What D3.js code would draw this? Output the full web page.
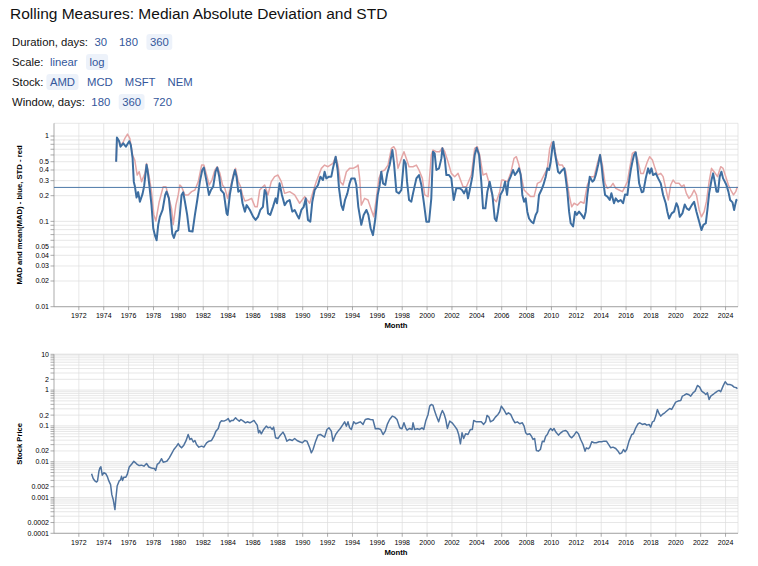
<!DOCTYPE html>
<html><head><meta charset="utf-8">
<script src="https://cdn.jsdelivr.net/npm/d3@7"></script>
<style>
body{margin:0;background:#fff;}
svg{display:block;font-family:"Liberation Sans",Arial,Helvetica,sans-serif;}
</style></head><body>
<svg id="chart" width="758" height="566"></svg>
<script>
// ---------- text ----------
const title = "Rolling Measures: Median Absolute Deviation and STD";
const controlLabels = ["Duration, days:", "Scale:", "Stock:", "Window, days:"];
const controlOptions = [["30", "180", "360"], ["linear", "log"], ["AMD", "MCD", "MSFT", "NEM"], ["180", "360", "720"]];
const controlSelected = ["360", "log", "AMD", "360"];
const xTitle = "Month";
const topYTitle = "MAD and mean(MAD) - blue, STD - red";
const bottomYTitle = "Stock Price";

// ---------- data (decimal year, value) ----------
const madSeries = [
[1975.00,0.50],[1975.06,0.96],[1975.24,0.87],[1975.35,0.75],[1975.57,0.82],[1975.78,0.75],[1976.05,0.87],[1976.18,0.78],
[1976.32,0.55],[1976.42,0.29],[1976.50,0.26],[1976.64,0.19],[1976.77,0.22],[1976.91,0.17],[1977.12,0.21],[1977.25,0.26],
[1977.44,0.46],[1977.52,0.40],[1977.66,0.27],[1977.84,0.155],[1977.98,0.083],[1978.11,0.069],[1978.25,0.060],[1978.38,0.091],
[1978.51,0.113],[1978.73,0.136],[1978.94,0.204],[1979.05,0.223],[1979.24,0.186],[1979.37,0.119],[1979.51,0.072],[1979.64,0.064],
[1979.80,0.076],[1979.99,0.079],[1980.12,0.119],[1980.26,0.204],[1980.39,0.219],[1980.53,0.170],[1980.71,0.119],[1980.87,0.077],
[1981.14,0.076],[1981.33,0.119],[1981.52,0.178],[1981.73,0.292],[1981.92,0.400],[1982.05,0.426],[1982.27,0.292],[1982.46,0.204],
[1982.62,0.233],[1982.80,0.255],[1982.99,0.382],[1983.13,0.426],[1983.29,0.334],[1983.42,0.233],[1983.66,0.213],[1983.88,0.124],
[1983.96,0.119],[1984.14,0.204],[1984.33,0.292],[1984.55,0.400],[1984.68,0.334],[1984.82,0.223],[1985.00,0.233],[1985.16,0.163],
[1985.35,0.130],[1985.49,0.155],[1985.75,0.136],[1986.02,0.113],[1986.21,0.104],[1986.40,0.113],[1986.59,0.136],[1986.80,0.148],
[1986.94,0.233],[1987.07,0.213],[1987.21,0.124],[1987.39,0.119],[1987.61,0.148],[1987.82,0.186],[1987.93,0.163],[1988.14,0.279],
[1988.33,0.204],[1988.55,0.155],[1988.73,0.170],[1988.95,0.178],[1989.16,0.130],[1989.35,0.136],[1989.54,0.119],[1989.70,0.108],
[1989.89,0.136],[1990.08,0.148],[1990.24,0.186],[1990.42,0.104],[1990.61,0.099],[1990.77,0.170],[1990.96,0.233],[1991.23,0.267],
[1991.42,0.334],[1991.63,0.305],[1991.76,0.382],[1991.90,0.319],[1992.11,0.334],[1992.30,0.334],[1992.43,0.418],[1992.65,0.573],
[1992.81,0.400],[1992.92,0.244],[1993.10,0.155],[1993.24,0.136],[1993.40,0.178],[1993.59,0.213],[1993.77,0.279],[1993.91,0.319],
[1994.18,0.319],[1994.31,0.267],[1994.47,0.148],[1994.71,0.091],[1994.90,0.119],[1995.12,0.136],[1995.28,0.119],[1995.46,0.083],
[1995.65,0.069],[1995.84,0.108],[1996.03,0.204],[1996.19,0.267],[1996.32,0.382],[1996.46,0.279],[1996.64,0.267],[1996.80,0.365],
[1996.99,0.457],[1997.21,0.685],[1997.34,0.478],[1997.53,0.223],[1997.74,0.213],[1997.93,0.233],[1998.14,0.523],[1998.28,0.478],
[1998.39,0.292],[1998.55,0.178],[1998.73,0.170],[1998.87,0.213],[1999.14,0.319],[1999.35,0.349],[1999.54,0.267],[1999.73,0.170],
[1999.94,0.099],[2000.16,0.099],[2000.34,0.186],[2000.48,0.655],[2000.61,0.626],[2000.75,0.400],[2000.96,0.418],[2001.15,0.547],
[2001.23,0.717],[2001.42,0.547],[2001.55,0.349],[2001.76,0.349],[2001.95,0.319],[2002.14,0.178],[2002.35,0.244],[2002.62,0.244],
[2002.81,0.233],[2002.97,0.213],[2003.16,0.244],[2003.29,0.186],[2003.43,0.233],[2003.64,0.334],[2003.83,0.599],[2003.99,0.730],
[2004.18,0.599],[2004.36,0.292],[2004.50,0.142],[2004.69,0.142],[2004.85,0.223],[2005.03,0.292],[2005.25,0.204],[2005.44,0.108],
[2005.57,0.101],[2005.70,0.130],[2005.89,0.204],[2006.11,0.233],[2006.27,0.292],[2006.43,0.204],[2006.54,0.292],[2006.72,0.334],
[2006.91,0.400],[2007.07,0.349],[2007.26,0.382],[2007.39,0.418],[2007.53,0.349],[2007.66,0.204],[2007.80,0.170],[2007.93,0.186],
[2008.06,0.130],[2008.20,0.108],[2008.39,0.099],[2008.55,0.095],[2008.73,0.119],[2008.87,0.130],[2009.00,0.204],[2009.19,0.233],
[2009.35,0.267],[2009.54,0.334],[2009.67,0.418],[2009.81,0.400],[2009.94,0.500],[2010.08,0.750],[2010.16,0.858],[2010.26,0.655],
[2010.40,0.500],[2010.53,0.382],[2010.66,0.365],[2010.88,0.400],[2011.04,0.418],[2011.15,0.319],[2011.28,0.223],[2011.42,0.130],
[2011.55,0.095],[2011.74,0.087],[2011.90,0.130],[2012.03,0.119],[2012.22,0.130],[2012.43,0.119],[2012.62,0.108],[2012.76,0.130],
[2012.89,0.204],[2013.08,0.334],[2013.29,0.292],[2013.43,0.305],[2013.56,0.349],[2013.75,0.457],[2013.91,0.599],[2014.04,0.437],
[2014.15,0.305],[2014.31,0.204],[2014.50,0.195],[2014.69,0.178],[2014.82,0.213],[2015.03,0.163],[2015.17,0.186],[2015.36,0.170],
[2015.57,0.178],[2015.76,0.163],[2015.92,0.207],[2016.11,0.204],[2016.24,0.292],[2016.38,0.400],[2016.51,0.500],[2016.64,0.599],
[2016.78,0.643],[2016.91,0.457],[2017.05,0.279],[2017.26,0.219],[2017.39,0.223],[2017.58,0.319],[2017.77,0.418],[2017.90,0.365],
[2018.04,0.418],[2018.17,0.349],[2018.39,0.365],[2018.58,0.319],[2018.79,0.279],[2018.98,0.204],[2019.19,0.163],[2019.32,0.130],
[2019.46,0.108],[2019.67,0.124],[2019.86,0.130],[2020.05,0.163],[2020.18,0.148],[2020.32,0.113],[2020.53,0.124],[2020.72,0.158],
[2020.88,0.142],[2021.06,0.136],[2021.28,0.155],[2021.47,0.170],[2021.66,0.130],[2021.88,0.099],[2022.06,0.079],[2022.22,0.091],
[2022.41,0.095],[2022.54,0.136],[2022.68,0.213],[2022.87,0.305],[2023.00,0.365],[2023.13,0.292],[2023.27,0.223],[2023.40,0.223],
[2023.53,0.334],[2023.67,0.382],[2023.80,0.319],[2023.94,0.292],[2024.07,0.267],[2024.23,0.223],[2024.37,0.178],[2024.56,0.167],
[2024.69,0.136],[2024.77,0.155],[2024.87,0.178],[2024.95,0.180]
];

const stdSeries = [
[1975.00,0.50],[1975.06,0.95],[1975.24,0.87],[1975.35,0.77],[1975.57,0.85],[1975.70,0.94],[1975.91,1.055],[1976.10,0.94],
[1976.32,0.60],[1976.50,0.52],[1976.69,0.349],[1976.85,0.382],[1977.04,0.292],[1977.31,0.365],[1977.44,0.478],[1977.63,0.349],
[1977.84,0.223],[1978.03,0.119],[1978.19,0.101],[1978.46,0.170],[1978.78,0.255],[1979.00,0.255],[1979.18,0.204],[1979.45,0.142],
[1979.59,0.092],[1979.80,0.155],[1979.99,0.204],[1980.12,0.267],[1980.26,0.255],[1980.53,0.204],[1980.79,0.204],[1981.06,0.223],
[1981.33,0.233],[1981.60,0.292],[1981.87,0.457],[1982.05,0.457],[1982.27,0.349],[1982.48,0.267],[1982.70,0.305],[1982.94,0.400],
[1983.13,0.437],[1983.34,0.365],[1983.55,0.267],[1983.74,0.244],[1983.96,0.186],[1984.14,0.233],[1984.41,0.349],[1984.60,0.418],
[1984.82,0.292],[1985.00,0.255],[1985.16,0.204],[1985.35,0.173],[1985.62,0.178],[1985.89,0.186],[1986.16,0.148],[1986.34,0.148],
[1986.54,0.233],[1986.94,0.267],[1987.21,0.204],[1987.47,0.292],[1987.74,0.334],[1988.01,0.349],[1988.28,0.292],[1988.55,0.213],
[1988.95,0.223],[1989.35,0.204],[1989.75,0.163],[1990.16,0.195],[1990.56,0.163],[1990.83,0.223],[1991.09,0.292],[1991.50,0.418],
[1991.76,0.457],[1992.03,0.437],[1992.43,0.478],[1992.65,0.573],[1992.84,0.457],[1993.02,0.292],[1993.24,0.267],[1993.51,0.382],
[1993.77,0.418],[1994.04,0.418],[1994.31,0.437],[1994.45,0.457],[1994.58,0.319],[1994.71,0.155],[1994.98,0.186],[1995.25,0.178],
[1995.52,0.136],[1995.71,0.113],[1995.92,0.186],[1996.13,0.319],[1996.32,0.382],[1996.59,0.400],[1996.86,0.457],[1997.13,0.717],
[1997.32,0.750],[1997.48,0.685],[1997.66,0.418],[1997.93,0.547],[1998.14,0.655],[1998.33,0.547],[1998.55,0.437],[1998.87,0.437],
[1999.14,0.457],[1999.35,0.400],[1999.62,0.319],[1999.81,0.204],[2000.08,0.195],[2000.34,0.599],[2000.48,0.685],[2000.75,0.655],
[2001.01,0.655],[2001.23,0.730],[2001.42,0.655],[2001.68,0.500],[2001.95,0.365],[2002.22,0.334],[2002.49,0.365],[2002.89,0.255],
[2003.16,0.255],[2003.56,0.349],[2003.83,0.717],[2004.04,0.750],[2004.23,0.599],[2004.50,0.349],[2004.77,0.365],[2005.03,0.267],
[2005.30,0.186],[2005.57,0.170],[2005.84,0.223],[2006.00,0.305],[2006.11,0.305],[2006.46,0.292],[2006.72,0.365],[2006.99,0.547],
[2007.18,0.573],[2007.39,0.457],[2007.66,0.292],[2007.80,0.233],[2008.06,0.213],[2008.33,0.195],[2008.60,0.195],[2008.87,0.279],
[2009.14,0.292],[2009.40,0.349],[2009.67,0.418],[2009.86,0.717],[2010.02,0.843],[2010.21,0.784],[2010.40,0.547],[2010.61,0.457],
[2010.88,0.457],[2011.15,0.382],[2011.42,0.204],[2011.63,0.148],[2011.82,0.163],[2012.09,0.155],[2012.35,0.170],[2012.62,0.163],
[2012.89,0.267],[2013.16,0.334],[2013.43,0.334],[2013.69,0.478],[2013.91,0.610],[2014.10,0.457],[2014.31,0.279],[2014.50,0.244],
[2014.77,0.255],[2014.95,0.279],[2015.17,0.244],[2015.44,0.233],[2015.71,0.223],[2015.92,0.255],[2016.11,0.292],[2016.29,0.418],
[2016.51,0.626],[2016.72,0.655],[2016.91,0.547],[2017.18,0.365],[2017.39,0.365],[2017.71,0.500],[2017.90,0.573],[2018.12,0.523],
[2018.33,0.418],[2018.52,0.349],[2018.79,0.365],[2018.98,0.334],[2019.19,0.244],[2019.40,0.178],[2019.59,0.267],[2019.78,0.305],
[2019.99,0.279],[2020.26,0.279],[2020.48,0.255],[2020.66,0.267],[2020.85,0.213],[2021.06,0.186],[2021.28,0.204],[2021.47,0.233],
[2021.66,0.204],[2021.88,0.136],[2022.06,0.113],[2022.28,0.130],[2022.46,0.170],[2022.68,0.292],[2022.87,0.418],[2023.08,0.382],
[2023.35,0.334],[2023.61,0.437],[2023.80,0.418],[2024.02,0.334],[2024.23,0.267],[2024.42,0.233],[2024.64,0.204],[2024.82,0.223],
[2024.95,0.255]
];

const meanMad = 0.25;

const priceSeries = [
[1973.02,0.0046],[1973.15,0.0034],[1973.29,0.0029],[1973.42,0.0027],[1973.50,0.0029],[1973.61,0.0054],[1973.69,0.0067],[1973.77,0.0072],
[1973.88,0.0042],[1974.01,0.0049],[1974.17,0.0046],[1974.28,0.0039],[1974.41,0.0029],[1974.55,0.0023],[1974.65,0.0012],[1974.76,0.00088],
[1974.90,0.00046],[1974.98,0.00097],[1975.08,0.0021],[1975.24,0.0029],[1975.35,0.0031],[1975.43,0.0039],[1975.51,0.0030],[1975.62,0.0037],
[1975.78,0.0037],[1975.89,0.0044],[1976.05,0.0071],[1976.24,0.0085],[1976.42,0.0103],[1976.56,0.0093],[1976.69,0.0084],[1976.85,0.0078],
[1977.04,0.0080],[1977.23,0.0075],[1977.44,0.0089],[1977.63,0.0071],[1977.84,0.0067],[1978.06,0.0065],[1978.17,0.0057],[1978.30,0.0084],
[1978.46,0.0093],[1978.65,0.0121],[1978.78,0.0097],[1978.92,0.0099],[1979.10,0.0105],[1979.27,0.0128],[1979.45,0.0166],[1979.64,0.0219],
[1979.86,0.0272],[1979.99,0.0320],[1980.12,0.0272],[1980.26,0.0244],[1980.44,0.0290],[1980.61,0.0380],[1980.79,0.0576],[1980.93,0.0418],
[1981.06,0.0445],[1981.20,0.0355],[1981.33,0.0392],[1981.46,0.0303],[1981.65,0.0255],[1981.87,0.0272],[1982.05,0.0255],[1982.27,0.0337],
[1982.46,0.0375],[1982.67,0.0392],[1982.86,0.0517],[1983.02,0.0714],[1983.21,0.0848],[1983.34,0.122],[1983.47,0.140],[1983.66,0.136],
[1983.88,0.148],[1984.01,0.161],[1984.14,0.130],[1984.28,0.142],[1984.41,0.142],[1984.60,0.168],[1984.73,0.151],[1984.90,0.136],
[1985.03,0.151],[1985.22,0.136],[1985.40,0.122],[1985.54,0.130],[1985.75,0.122],[1985.89,0.130],[1986.08,0.142],[1986.21,0.122],
[1986.34,0.105],[1986.45,0.0641],[1986.54,0.0746],[1986.67,0.0601],[1986.86,0.0795],[1987.07,0.0985],[1987.21,0.0885],[1987.39,0.0924],
[1987.55,0.0795],[1987.66,0.0924],[1987.82,0.0465],[1988.01,0.0445],[1988.20,0.0552],[1988.41,0.067],[1988.55,0.0552],[1988.73,0.0375],
[1988.95,0.0418],[1989.16,0.0392],[1989.35,0.0445],[1989.54,0.0392],[1989.75,0.036],[1989.97,0.0337],[1990.16,0.0392],[1990.34,0.0375],
[1990.56,0.0244],[1990.69,0.0177],[1990.83,0.0219],[1991.04,0.0375],[1991.23,0.0552],[1991.42,0.0576],[1991.63,0.0517],[1991.76,0.0485],
[1991.95,0.0795],[1992.11,0.0885],[1992.30,0.0714],[1992.43,0.0375],[1992.65,0.0576],[1992.84,0.0714],[1993.02,0.0848],[1993.24,0.110],
[1993.37,0.130],[1993.51,0.0985],[1993.64,0.130],[1993.77,0.0885],[1993.91,0.0795],[1994.10,0.130],[1994.26,0.115],[1994.45,0.122],
[1994.63,0.130],[1994.85,0.110],[1995.03,0.151],[1995.25,0.158],[1995.44,0.151],[1995.65,0.148],[1995.84,0.083],[1996.05,0.0848],
[1996.27,0.0795],[1996.46,0.0576],[1996.64,0.0714],[1996.80,0.110],[1996.99,0.151],[1997.21,0.188],[1997.39,0.176],[1997.58,0.151],
[1997.80,0.0885],[1997.98,0.083],[1998.14,0.122],[1998.28,0.0885],[1998.39,0.0762],[1998.60,0.0848],[1998.79,0.0795],[1998.87,0.122],
[1999.00,0.0795],[1999.22,0.083],[1999.40,0.0795],[1999.59,0.0885],[1999.73,0.0795],[1999.89,0.136],[2000.08,0.209],[2000.21,0.357],
[2000.34,0.397],[2000.48,0.372],[2000.61,0.259],[2000.75,0.188],[2000.93,0.130],[2001.10,0.209],[2001.23,0.270],[2001.36,0.218],
[2001.50,0.151],[2001.63,0.0848],[2001.82,0.136],[2002.01,0.122],[2002.22,0.0985],[2002.41,0.0795],[2002.54,0.0576],[2002.68,0.0316],
[2002.81,0.0641],[2002.94,0.0445],[2003.10,0.0601],[2003.29,0.0576],[2003.48,0.0795],[2003.64,0.0795],[2003.75,0.142],[2003.96,0.130],
[2004.18,0.130],[2004.36,0.130],[2004.55,0.110],[2004.71,0.130],[2004.82,0.196],[2004.98,0.176],[2005.09,0.130],[2005.30,0.142],
[2005.49,0.176],[2005.70,0.209],[2005.84,0.248],[2005.97,0.357],[2006.16,0.288],[2006.38,0.209],[2006.54,0.232],[2006.72,0.209],
[2006.91,0.151],[2007.07,0.122],[2007.26,0.130],[2007.45,0.115],[2007.66,0.122],[2007.80,0.0985],[2007.93,0.0641],[2008.06,0.0576],
[2008.25,0.0601],[2008.39,0.0517],[2008.52,0.0418],[2008.65,0.0445],[2008.79,0.0206],[2008.95,0.0197],[2009.11,0.0219],[2009.27,0.0375],
[2009.40,0.036],[2009.54,0.0517],[2009.67,0.0576],[2009.81,0.0746],[2009.94,0.0848],[2010.08,0.0746],[2010.21,0.0848],[2010.34,0.0684],
[2010.56,0.0552],[2010.75,0.0641],[2010.93,0.0714],[2011.15,0.0746],[2011.28,0.0684],[2011.47,0.0517],[2011.63,0.0465],[2011.82,0.0552],
[2012.01,0.0684],[2012.17,0.0601],[2012.35,0.0418],[2012.54,0.0303],[2012.70,0.0197],[2012.81,0.0244],[2012.97,0.0229],[2013.08,0.0255],
[2013.24,0.036],[2013.43,0.0337],[2013.61,0.0337],[2013.83,0.036],[2014.04,0.036],[2014.23,0.0375],[2014.42,0.0375],[2014.63,0.029],
[2014.77,0.0244],[2014.95,0.0255],[2015.17,0.0234],[2015.36,0.0197],[2015.49,0.0166],[2015.65,0.0177],[2015.79,0.0219],[2015.92,0.0189],
[2016.05,0.0219],[2016.24,0.0375],[2016.46,0.0576],[2016.59,0.0601],[2016.78,0.0885],[2016.97,0.115],[2017.10,0.122],[2017.31,0.110],
[2017.50,0.115],[2017.66,0.105],[2017.85,0.110],[2017.98,0.0924],[2018.12,0.130],[2018.25,0.136],[2018.39,0.188],[2018.52,0.288],
[2018.66,0.218],[2018.79,0.188],[2018.92,0.209],[2019.11,0.232],[2019.32,0.270],[2019.51,0.307],[2019.67,0.288],[2019.86,0.381],
[2019.99,0.462],[2020.18,0.493],[2020.40,0.514],[2020.53,0.680],[2020.66,0.710],[2020.85,0.790],[2021.01,0.756],[2021.20,0.680],
[2021.39,0.842],[2021.55,0.938],[2021.74,1.35],[2021.92,1.21],[2022.08,0.938],[2022.27,0.842],[2022.41,0.756],[2022.54,0.842],
[2022.68,0.548],[2022.81,0.680],[2023.00,0.756],[2023.16,0.842],[2023.35,0.938],[2023.48,0.979],[2023.61,0.898],[2023.80,1.29],
[2023.97,1.71],[2024.15,1.44],[2024.34,1.44],[2024.50,1.38],[2024.69,1.21],[2024.88,1.16],[2024.95,1.09]
];

// ---------- helpers ----------
const toDate = y => new Date(Date.UTC(Math.floor(y), 0, 1) + (y - Math.floor(y)) * 365.25 * 864e5);

const svg = d3.select("#chart");

// title
svg.append("text").attr("x", 10).attr("y", 18.6).attr("font-size", 15.5).attr("fill", "#111").text(title);

// controls
controlLabels.forEach((lab, i) => {
  const y = 46 + i * 20;
  const g = svg.append("g").attr("font-size", 11.3);
  const t = g.append("text").attr("x", 12).attr("y", y).attr("fill", "#111").text(lab);
  let x = 12 + t.node().getComputedTextLength() + 6.5;
  controlOptions[i].forEach(opt => {
    const sel = opt === controlSelected[i];
    const rect = sel ? g.append("rect") : null;
    const ot = g.append("text").attr("x", x).attr("y", y).attr("fill", "#34579b").text(opt);
    const w = ot.node().getComputedTextLength();
    if (sel) rect.attr("x", x - 3.5).attr("y", y - 12).attr("width", w + 7).attr("height", 16).attr("rx", 3).attr("fill", "#edf2fa");
    x += w + 12;
  });
});

const x = d3.scaleUtc().domain([new Date(Date.UTC(1970, 0, 1)), new Date(Date.UTC(2025, 0, 1))]).range([54, 738]);
const xTicks = d3.utcYear.every(2).range(new Date(Date.UTC(1971, 0, 1)), new Date(Date.UTC(2025, 0, 1)));

function drawPanel(opts) {
  const { top, bottom, yDomain, yTitle, lines, rule } = opts;
  const y = d3.scaleLog().domain(yDomain).range([bottom, top]);
  const g = svg.append("g");
  const yTicks = y.ticks();
  const fmt = y.tickFormat(10, "~g");
  const L = 54, R = 738;

  // grid
  g.append("g").selectAll("line").data(yTicks).join("line")
    .attr("x1", L).attr("x2", R).attr("y1", d => y(d)).attr("y2", d => y(d))
    .attr("stroke", "#ddd").attr("stroke-width", 0.7);
  g.append("g").selectAll("line").data(xTicks).join("line")
    .attr("x1", d => x(d)).attr("x2", d => x(d)).attr("y1", top).attr("y2", bottom)
    .attr("stroke", "#ddd").attr("stroke-width", 0.7);
  // view border (top, right)
  g.append("path").attr("d", `M${L},${top}H${R}V${bottom}`).attr("fill", "none").attr("stroke", "#ddd").attr("stroke-width", 0.7);

  // axes
  const ax = g.append("g");
  ax.append("line").attr("x1", L).attr("x2", R).attr("y1", bottom).attr("y2", bottom).attr("stroke", "#888").attr("stroke-width", 0.7);
  ax.append("line").attr("x1", L).attr("x2", L).attr("y1", top).attr("y2", bottom).attr("stroke", "#888").attr("stroke-width", 0.7);
  ax.append("g").selectAll("line").data(xTicks).join("line")
    .attr("x1", d => x(d)).attr("x2", d => x(d)).attr("y1", bottom).attr("y2", bottom + 3.5)
    .attr("stroke", "#888").attr("stroke-width", 0.7);
  ax.append("g").selectAll("line").data(yTicks).join("line")
    .attr("x1", L - 3.5).attr("x2", L).attr("y1", d => y(d)).attr("y2", d => y(d))
    .attr("stroke", "#888").attr("stroke-width", 0.7);
  ax.append("g").selectAll("text").data(xTicks).join("text")
    .attr("x", d => x(d)).attr("y", bottom + 11.3).attr("text-anchor", "middle")
    .attr("font-size", 7).attr("fill", "#000").text(d => d3.utcFormat("%Y")(d));
  ax.append("g").selectAll("text").data(yTicks.filter(d => fmt(d) !== "")).join("text")
    .attr("x", L - 5).attr("y", d => y(d)).attr("dy", "0.34em").attr("text-anchor", "end")
    .attr("font-size", 7).attr("fill", "#000").text(d => fmt(d));
  ax.append("text").attr("x", (L + R) / 2).attr("y", bottom + 21.6).attr("text-anchor", "middle")
    .attr("font-size", 7.7).attr("font-weight", "bold").attr("fill", "#000").text(xTitle);
  ax.append("text").attr("transform", `translate(21.5,${(top + bottom) / 2}) rotate(-90)`).attr("text-anchor", "middle")
    .attr("font-size", 7.7).attr("font-weight", "bold").attr("fill", "#000").text(yTitle);

  // marks
  lines.forEach(ln => {
    const gen = d3.line().x(d => x(toDate(d[0]))).y(d => y(d[1]));
    g.append("path").datum(ln.data).attr("d", gen).attr("fill", "none")
      .attr("stroke", ln.color).attr("stroke-width", ln.width).attr("stroke-linejoin", "round");
  });
  if (rule != null) {
    g.append("line").attr("x1", L).attr("x2", R).attr("y1", y(rule)).attr("y2", y(rule))
      .attr("stroke", "#4c78a8").attr("stroke-width", 1);
  }
}

drawPanel({
  top: 123.3, bottom: 306.7, yDomain: [0.01, 1.41], yTitle: topYTitle,
  lines: [
    { data: stdSeries, color: "#e4a6a6", width: 1.5 },
    { data: madSeries, color: "#3d6ea1", width: 2 }
  ],
  rule: meanMad
});

drawPanel({
  top: 354.3, bottom: 533.3, yDomain: [0.0001, 10], yTitle: bottomYTitle,
  lines: [{ data: priceSeries, color: "#4f739f", width: 1.5 }],
  rule: null
});
</script>
</body></html>
